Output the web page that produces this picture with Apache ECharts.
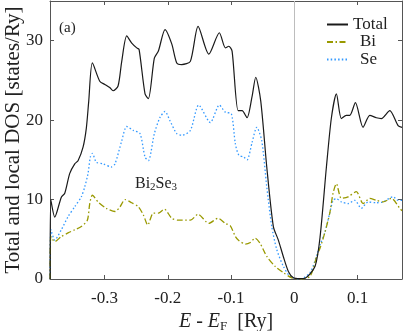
<!DOCTYPE html>
<html>
<head>
<meta charset="utf-8">
<script src="https://cdn.jsdelivr.net/npm/echarts@6/dist/echarts.min.js"></script>
<style>html,body{margin:0;padding:0;background:#fff;}#c{width:403px;height:331px;}</style>
</head>
<body>
<div id="c"></div>
<script>
// ---- data ----
const xTicks = [-0.3, -0.2, -0.1, 0, 0.1];
const yTicks = [0, 10, 20, 30];
const seriesNames = ['Total', 'Bi', 'Se'];

const totalE = [-0.3858,-0.3848,-0.3785,-0.3681,-0.3627,-0.3548,-0.3469,-0.3417,-0.3338,-0.3286,-0.3248,-0.3191,-0.3074,-0.2995,-0.2916,-0.2864,-0.2785,-0.2727,-0.2648,-0.2569,-0.2490,-0.2453,-0.2359,-0.2306,-0.2212,-0.2148,-0.2043,-0.1937,-0.1858,-0.1779,-0.1643,-0.1521,-0.1352,-0.1185,-0.1090,-0.1036,-0.0984,-0.0889,-0.0826,-0.0747,-0.0668,-0.0610,-0.0531,-0.0436,-0.0332,-0.0253,-0.0174,-0.0095,-0.0016,0.0090,0.0169,0.0327,0.0406,0.0506,0.0585,0.0664,0.0742,0.0821,0.0875,0.0964,0.1085,0.1191,0.1295,0.1374,0.1507,0.1638,0.1700];
const totalDOS = [0,10.0,7.8,10.3,10.8,13.3,14.5,14.9,16.6,19.0,22.4,27.2,24.9,24.5,24.1,23.7,24.3,27.4,30.6,29.7,29.1,28.9,23.3,22.7,27.8,28.7,31.4,29.6,27.2,27.0,27.4,31.8,28.3,31.0,29.1,29.3,28.7,21.2,21.2,20.3,23.0,25.4,22.4,14.1,6.6,4.9,2.8,0.95,0.15,0.05,0.1,1.6,5.3,14.1,20.3,23.3,20.2,20.6,20.6,22.2,19.1,20.6,20.3,20.2,21.2,19.3,19.1];

const biE = [-0.3858,-0.3848,-0.3785,-0.3681,-0.3575,-0.3469,-0.3365,-0.3270,-0.3232,-0.3191,-0.3101,-0.2970,-0.2833,-0.2754,-0.2675,-0.2569,-0.2464,-0.2385,-0.2316,-0.2227,-0.2148,-0.2054,-0.1937,-0.1833,-0.1643,-0.1521,-0.1352,-0.1205,-0.1090,-0.1011,-0.0932,-0.0878,-0.0774,-0.0695,-0.0621,-0.0542,-0.0436,-0.0305,-0.0174,-0.0041,0.0090,0.0248,0.0354,0.0406,0.0480,0.0559,0.0611,0.0664,0.0742,0.0848,0.0979,0.1085,0.1191,0.1295,0.1401,0.1532,0.1665,0.1700];
const biDOS = [0,5.35,4.7,5.35,5.8,6.2,6.6,7.4,9.5,10.55,9.7,8.9,8.5,9.1,10.0,9.6,9.1,8.06,6.8,8.3,8.3,8.8,7.65,7.4,7.4,8.15,7.0,7.65,7.0,6.7,5.35,4.85,4.4,4.6,5.15,4.5,2.85,1.6,0.8,0.15,0,0.35,2.85,3.9,5.8,8.3,10.8,12.0,10.15,10.35,11.0,9.5,10.15,9.9,9.7,10.15,8.9,8.6];

const seE = [-0.3858,-0.3845,-0.3785,-0.3681,-0.3575,-0.3469,-0.3365,-0.3311,-0.3259,-0.3223,-0.3191,-0.3128,-0.3022,-0.2891,-0.2833,-0.2727,-0.2648,-0.2543,-0.2438,-0.2359,-0.2306,-0.2212,-0.2122,-0.2043,-0.1964,-0.1858,-0.1779,-0.1643,-0.1510,-0.1327,-0.1185,-0.1090,-0.0995,-0.0932,-0.0878,-0.0799,-0.0747,-0.0668,-0.0594,-0.0515,-0.0436,-0.0357,-0.0278,-0.0174,-0.0068,0.0090,0.0248,0.0354,0.0406,0.0480,0.0559,0.0611,0.0664,0.0742,0.0848,0.0954,0.1058,0.1164,0.1295,0.1401,0.1559,0.1638,0.1700];
const seDOS = [0,6.2,4.9,6.2,7.85,9.1,10.35,11.6,13.3,15.35,15.8,14.7,14.5,14.1,14.5,17.4,19.2,18.7,18.3,15.35,14.9,18.3,20.35,21.1,19.9,18.3,18.1,18.7,21.9,19.7,21.9,21.0,20.8,17.0,15.6,15.35,15.0,17.2,19.1,17.4,11.6,6.6,3.7,1.6,0.35,0.0,0.8,3.0,4.3,5.8,8.3,9.9,10.1,9.7,9.5,9.9,8.9,9.7,9.6,9.7,10.35,9.9,9.9];

// ---- chart ----
const FONT = 'Liberation Serif';
const TXT = '#222';
const AX = '#555';
const pairs = (xs, ys) => xs.map((x, i) => [x, ys[i]]);

const chart = echarts.init(document.getElementById('c'), null, {renderer: 'canvas'});

const xBase = {
  type: 'value', min: -0.386, max: 0.17,
  axisLine: {show: true, onZero: false, lineStyle: {color: AX, width: 1}},
  axisTick: {show: true, inside: true, length: 4, customValues: xTicks, lineStyle: {color: AX}},
  splitLine: {show: false}
};
const yBase = {
  type: 'value', min: 0, max: 35,
  axisLine: {show: true, onZero: false, lineStyle: {color: AX, width: 1}},
  axisTick: {show: true, inside: true, length: 4, customValues: yTicks, lineStyle: {color: AX}},
  splitLine: {show: false}
};

chart.setOption({
  animation: false,
  backgroundColor: '#fff',
  textStyle: {fontFamily: FONT},
  grid: {left: 50, right: 1, top: 1, bottom: 52, containLabel: false, outerBoundsMode: 'none'},
  xAxis: [
    Object.assign({}, xBase, {
      position: 'bottom',
      axisLabel: {show: true, customValues: xTicks, fontFamily: FONT, fontSize: 17, color: TXT, margin: 11,
        formatter: v => String(Math.round(v * 10) / 10)},
      name: '{i|E} - {i|E}{s|F}  [Ry]',
      nameLocation: 'middle', nameGap: 30,
      nameTextStyle: {fontFamily: FONT, fontSize: 20, color: TXT,
        rich: {
          i: {fontFamily: FONT, fontSize: 20, fontStyle: 'italic', color: TXT},
          s: {fontFamily: FONT, fontSize: 13, color: TXT, verticalAlign: 'bottom', padding: [9, 0, 0, 0]}
        }}
    }),
    Object.assign({}, xBase, {position: 'top', axisLabel: {show: false}})
  ],
  yAxis: [
    Object.assign({}, yBase, {
      position: 'left',
      axisLabel: {show: true, customValues: yTicks, fontFamily: FONT, fontSize: 17, color: TXT, margin: 7},
      name: 'Total and local DOS [states/Ry]',
      nameLocation: 'middle', nameGap: 26, nameMoveOverlap: false,
      nameTextStyle: {fontFamily: FONT, fontSize: 21, color: TXT}
    }),
    Object.assign({}, yBase, {position: 'right', axisLabel: {show: false}})
  ],
  legend: {
    orient: 'vertical', left: 321, top: 11,
    itemWidth: 21, itemHeight: 10, itemGap: 0.5,
    itemStyle: {opacity: 0},
    textStyle: {fontFamily: FONT, fontSize: 17, color: TXT, lineHeight: 17},
    data: [
      {name: seriesNames[0]},
      {name: seriesNames[1], textStyle: {padding: [0, 0, 0, 7]}},
      {name: seriesNames[2], textStyle: {padding: [0, 0, 0, 7]}}
    ]
  },
  graphic: [
    {type: 'text', left: 59, top: 21, style: {text: '(a)', font: '15px "Liberation Serif"', fill: TXT}},
    {type: 'text', left: 135, top: 176, style: {text: 'Bi{s|2}Se{s|3}', font: '16px "Liberation Serif"', fill: TXT,
      rich: {s: {fontSize: 11, fontFamily: FONT, fill: TXT, verticalAlign: 'bottom', padding: [6, 0, 0, 0]}}}}
  ],
  series: [
    {
      name: seriesNames[0], type: 'line', data: pairs(totalE, totalDOS),
      smooth: 0.25, showSymbol: false, symbol: 'none',
      lineStyle: {color: '#1a1a1a', width: 1.2}, itemStyle: {color: '#1a1a1a'}, z: 5,
      markLine: {silent: true, symbol: 'none', label: {show: false},
        lineStyle: {color: '#bdbdbd', width: 1, type: 'solid'},
        data: [{xAxis: 0}]}
    },
    {
      name: seriesNames[1], type: 'line', data: pairs(biE, biDOS),
      smooth: 0.25, showSymbol: false, symbol: 'none',
      lineStyle: {color: '#999900', width: 1.3, type: [6, 2.5, 1.5, 2.5]}, itemStyle: {color: '#999900'}, z: 4
    },
    {
      name: seriesNames[2], type: 'line', data: pairs(seE, seDOS),
      smooth: 0.25, showSymbol: false, symbol: 'none',
      lineStyle: {color: '#3399ff', width: 1.3, type: [1.5, 2.2]}, itemStyle: {color: '#3399ff'}, z: 3
    }
  ]
});
</script>
</body>
</html>
